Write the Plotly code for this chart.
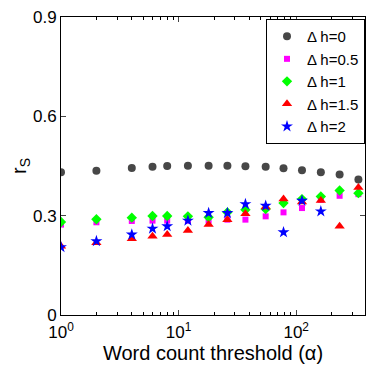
import plotly.graph_objects as go

# word count thresholds (alpha)
alpha = [1, 2, 4, 6, 8, 12, 18, 26, 37, 55, 78, 112, 162, 234, 338]
alpha_h2 = alpha[:13]

rs_h0 = [0.431, 0.436, 0.444, 0.448, 0.450, 0.451, 0.451, 0.451, 0.449, 0.448, 0.443, 0.437, 0.431, 0.424, 0.409]
rs_h05 = [0.273, 0.280, 0.284, 0.285, 0.285, 0.285, 0.285, 0.288, 0.288, 0.298, 0.310, 0.323, 0.348, 0.360, 0.365]
rs_h1 = [0.281, 0.289, 0.294, 0.299, 0.299, 0.298, 0.295, 0.310, 0.318, 0.320, 0.338, 0.350, 0.358, 0.376, 0.368]
rs_h15 = [0.208, 0.218, 0.230, 0.238, 0.243, 0.255, 0.273, 0.288, 0.306, 0.326, 0.350, 0.341, 0.346, 0.268, 0.385]
rs_h2 = [0.205, 0.223, 0.243, 0.261, 0.268, 0.285, 0.308, 0.308, 0.335, 0.330, 0.250, 0.345, 0.313]

minor_vals = [m * 10 ** d for d in range(3) for m in range(2, 10)]

series = [
    ("\u0394 h=0", alpha, rs_h0, "circle", "#474747", 8),
    ("\u0394 h=0.5", alpha, rs_h05, "square", "#ff00ff", 6),
    ("\u0394 h=1", alpha, rs_h1, "diamond", "#00ff00", 8),
    ("\u0394 h=1.5", alpha, rs_h15, "triangle-up", "#ff0000", 9),
    ("\u0394 h=2", alpha_h2, rs_h2, "star", "#0000ff", 9),
]

fig = go.Figure()
for name, xs, ys, sym, col, sz in series:
    fig.add_trace(go.Scatter(
        x=xs, y=ys, mode="markers", name=name,
        marker=dict(symbol=sym, color=col, size=sz, line=dict(width=0)),
    ))

# the page body adds an 8px margin, so the margins here are shifted by that
font = "Liberation Sans, Arial, sans-serif"
fig.update_layout(
    width=374, height=371,
    margin=dict(l=53, r=17, t=9, b=64),
    paper_bgcolor="white", plot_bgcolor="white",
    font=dict(family=font, size=17, color="black"),
    legend=dict(
        x=1, y=0.993, xanchor="right", yanchor="top",
        bordercolor="black", borderwidth=1, bgcolor="white",
        font=dict(size=15), itemwidth=30, tracegroupgap=0,
    ),
    xaxis=dict(
        type="log", range=[0, 2.585], automargin=False,
        tickvals=[1, 10, 100],
        ticktext=["10<sup>0</sup>", "10<sup>1</sup>", "10<sup>2</sup>"],
        ticks="inside", ticklen=5, mirror="ticks", ticklabelstandoff=2,
        ticklabeloverflow="allow",
        showline=True, linecolor="black", linewidth=1,
        showgrid=False, zeroline=False,
        minor=dict(tickvals=minor_vals, ticks="inside", ticklen=3,
                   tickcolor="black", showgrid=False),
        title=dict(text="Word count threshold (\u03b1)", standoff=0),
    ),
    yaxis=dict(
        range=[0, 0.9], automargin=False,
        tickvals=[0, 0.3, 0.6, 0.9], ticktext=["0", "0.3", "0.6", "0.9"],
        ticks="inside", ticklen=5, mirror="ticks",
        ticklabeloverflow="allow",
        showline=True, linecolor="black", linewidth=1,
        showgrid=False, zeroline=False,
        title=dict(text="r<sub>S</sub>", standoff=8),
    ),
)

fig.write_html("out.html")
